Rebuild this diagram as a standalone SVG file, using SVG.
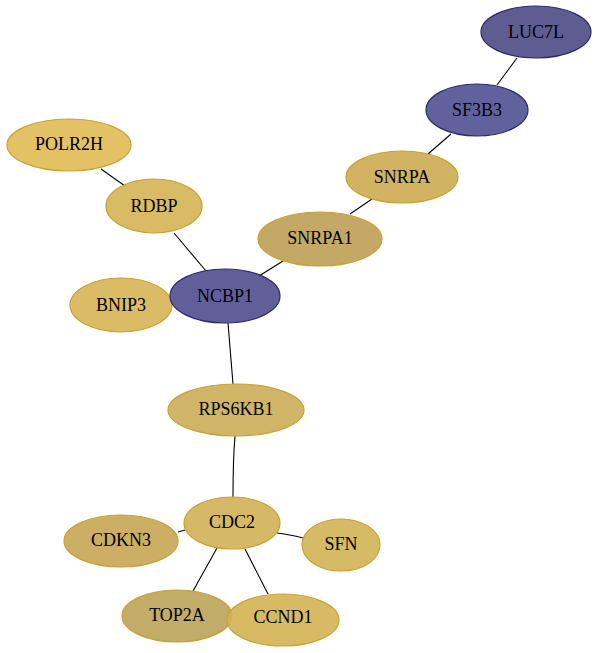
<svg xmlns="http://www.w3.org/2000/svg" width="597" height="653" viewBox="0 0 597 653">
<style>
.e{stroke:#000;stroke-width:1.1;fill:none}
.y{stroke:#c9a232;stroke-width:1.2;fill-opacity:0.9}
.b{stroke:#2b2a6e;stroke-width:1.2;fill-opacity:0.95}
text{font-family:"Liberation Serif","Times New Roman",serif;font-size:18px;text-anchor:middle;dominant-baseline:central;fill:#000}
</style>
<rect width="597" height="653" fill="#fff"/>
<g id="edges">
<path class="e" d="M517,58 L497,85"/>
<path class="e" d="M451,134 L428,154"/>
<path class="e" d="M372,199 L350,214"/>
<path class="e" d="M283,261 L259,276"/>
<path class="e" d="M101,169 L125,186"/>
<path class="e" d="M174,233 L206,271"/>
<path class="e" d="M228,323 L233,384"/>
<path class="e" d="M235,436 Q233,460 233,497"/>
<path class="e" d="M185,530 L178,532"/>
<path class="e" d="M277,533 Q292,535 303,538"/>
<path class="e" d="M217,548 L193,591"/>
<path class="e" d="M245,549 L268,594"/>
</g>
<g id="LUC7L"><ellipse class="b" cx="536" cy="32" rx="55" ry="26" fill="#55538a"/><text x="536" y="32">LUC7L</text></g>
<g id="SF3B3"><ellipse class="b" cx="477" cy="110" rx="51" ry="26" fill="#595898"/><text x="477" y="110">SF3B3</text></g>
<g id="SNRPA"><ellipse class="y" cx="402" cy="177" rx="56" ry="26" fill="#ccab52"/><text x="402" y="177">SNRPA</text></g>
<g id="SNRPA1"><ellipse class="y" cx="320" cy="239" rx="62" ry="27" fill="#bc9f55"/><text x="320" y="238">SNRPA1</text></g>
<g id="POLR2H"><ellipse class="y" cx="69" cy="145" rx="62" ry="26" fill="#e0bb55"/><text x="69" y="144">POLR2H</text></g>
<g id="RDBP"><ellipse class="y" cx="154" cy="206" rx="48" ry="27" fill="#d5b354"/><text x="154" y="206">RDBP</text></g>
<g id="BNIP3"><ellipse class="y" cx="121" cy="305" rx="51" ry="27" fill="#d7b454"/><text x="121" y="305">BNIP3</text></g>
<g id="NCBP1"><ellipse class="b" cx="225" cy="296" rx="55" ry="27" fill="#585693"/><text x="225" y="296">NCBP1</text></g>
<g id="RPS6KB1"><ellipse class="y" cx="236" cy="410" rx="68" ry="26" fill="#cbac56"/><text x="236" y="409">RPS6KB1</text></g>
<g id="CDC2"><ellipse class="y" cx="232" cy="523" rx="48" ry="26" fill="#d1b156"/><text x="232" y="522">CDC2</text></g>
<g id="CDKN3"><ellipse class="y" cx="121" cy="541" rx="57" ry="26" fill="#c7a653"/><text x="121" y="540">CDKN3</text></g>
<g id="SFN"><ellipse class="y" cx="341" cy="545" rx="39" ry="26" fill="#d3b255"/><text x="341" y="544">SFN</text></g>
<g id="TOP2A"><ellipse class="y" cx="177" cy="616" rx="55" ry="26" fill="#bca258"/><text x="177" y="615">TOP2A</text></g>
<g id="CCND1"><ellipse class="y" cx="283" cy="620" rx="56" ry="26" fill="#d4b354"/><text x="283" y="617">CCND1</text></g>
</svg>
